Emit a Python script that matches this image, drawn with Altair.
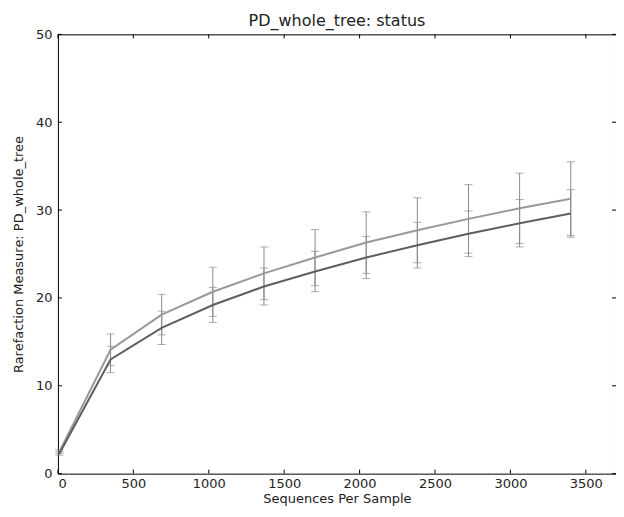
import altair as alt
import pandas as pd

depth = [10, 349, 688, 1027, 1366, 1705, 2044, 2383, 2722, 3061, 3400]
series_names = ["A", "B"]
mean_a = [2.5, 14.1, 18.1, 20.7, 22.8, 24.6, 26.3, 27.7, 29.0, 30.2, 31.3]
err_a = [0.2, 1.8, 2.3, 2.8, 3.0, 3.2, 3.5, 3.7, 3.9, 4.0, 4.2]
mean_b = [2.3, 13.0, 16.6, 19.2, 21.3, 23.0, 24.6, 26.0, 27.3, 28.5, 29.6]
err_b = [0.2, 1.5, 1.9, 2.0, 2.1, 2.3, 2.4, 2.6, 2.6, 2.7, 2.7]
x_ticks = [0, 500, 1000, 1500, 2000, 2500, 3000, 3500]
y_ticks = [0, 10, 20, 30, 40, 50]

rows = []
for name, m, e in [("A", mean_a, err_a), ("B", mean_b, err_b)]:
    for d, mv, ev in zip(depth, m, e):
        rows.append({"series": name, "depth": d, "mean": mv, "lo": mv - ev, "hi": mv + ev})
df = pd.DataFrame(rows)

W, H = 559, 440
xs = alt.Scale(domain=[0, 3700], nice=False, zero=False)
ys = alt.Scale(domain=[0, 50], nice=False)
color = alt.Scale(domain=series_names, range=["#999999", "#5f5f5f"])

xaxis = alt.Axis(values=x_ticks, tickSize=0, grid=False, domain=False, labelPadding=4,
                 title="Sequences Per Sample", titlePadding=2, format="d")
yaxis = alt.Axis(values=y_ticks, tickSize=0, grid=False, domain=False, labelPadding=6,
                 title="Rarefaction Measure: PD_whole_tree", titlePadding=10)

base = alt.Chart(df)
rules = base.mark_rule(color="#8a8a8a", strokeWidth=1).encode(
    x=alt.X("depth:Q", scale=xs, axis=xaxis),
    y=alt.Y("lo:Q", scale=ys, axis=yaxis),
    y2="hi:Q",
)
cap_lo = base.mark_tick(color="#8a8a8a", orient="horizontal", size=8, thickness=1).encode(
    x=alt.X("depth:Q", scale=xs), y=alt.Y("lo:Q", scale=ys))
cap_hi = base.mark_tick(color="#8a8a8a", orient="horizontal", size=8, thickness=1).encode(
    x=alt.X("depth:Q", scale=xs), y=alt.Y("hi:Q", scale=ys))
lines = base.mark_line(strokeWidth=2).encode(
    x=alt.X("depth:Q", scale=xs),
    y=alt.Y("mean:Q", scale=ys),
    color=alt.Color("series:N", scale=color, legend=None),
)

xt = pd.DataFrame({"v": x_ticks})
yt = pd.DataFrame({"v": y_ticks})
tk = dict(color="#000000", strokeWidth=1)
xb = alt.Chart(xt).mark_rule(**tk).encode(x=alt.X("v:Q", scale=xs), y=alt.value(H), y2=alt.value(H - 4))
xtp = alt.Chart(xt).mark_rule(**tk).encode(x=alt.X("v:Q", scale=xs), y=alt.value(0), y2=alt.value(4))
yl = alt.Chart(yt).mark_rule(**tk).encode(y=alt.Y("v:Q", scale=ys), x=alt.value(0), x2=alt.value(4))
yr = alt.Chart(yt).mark_rule(**tk).encode(y=alt.Y("v:Q", scale=ys), x=alt.value(W), x2=alt.value(W - 4))

chart = alt.layer(rules, cap_lo, cap_hi, lines, xb, xtp, yl, yr).properties(
    width=W, height=H,
    title=alt.Title("PD_whole_tree: status", fontSize=16, fontWeight="normal", offset=-1,
                    font="DejaVu Sans", color="#222222"),
    autosize=alt.AutoSizeParams(type="none"),
    padding={"left": 50, "top": 26, "right": 0, "bottom": 35},
).configure_view(stroke="#000000", strokeWidth=1).configure_axis(
    labelFont="DejaVu Sans", titleFont="DejaVu Sans", labelFontSize=13, titleFontSize=13,
    titleFontWeight="normal", labelColor="#222222", titleColor="#222222",
)

chart.save("out.html", embed_options={"renderer": "svg", "actions": False})
